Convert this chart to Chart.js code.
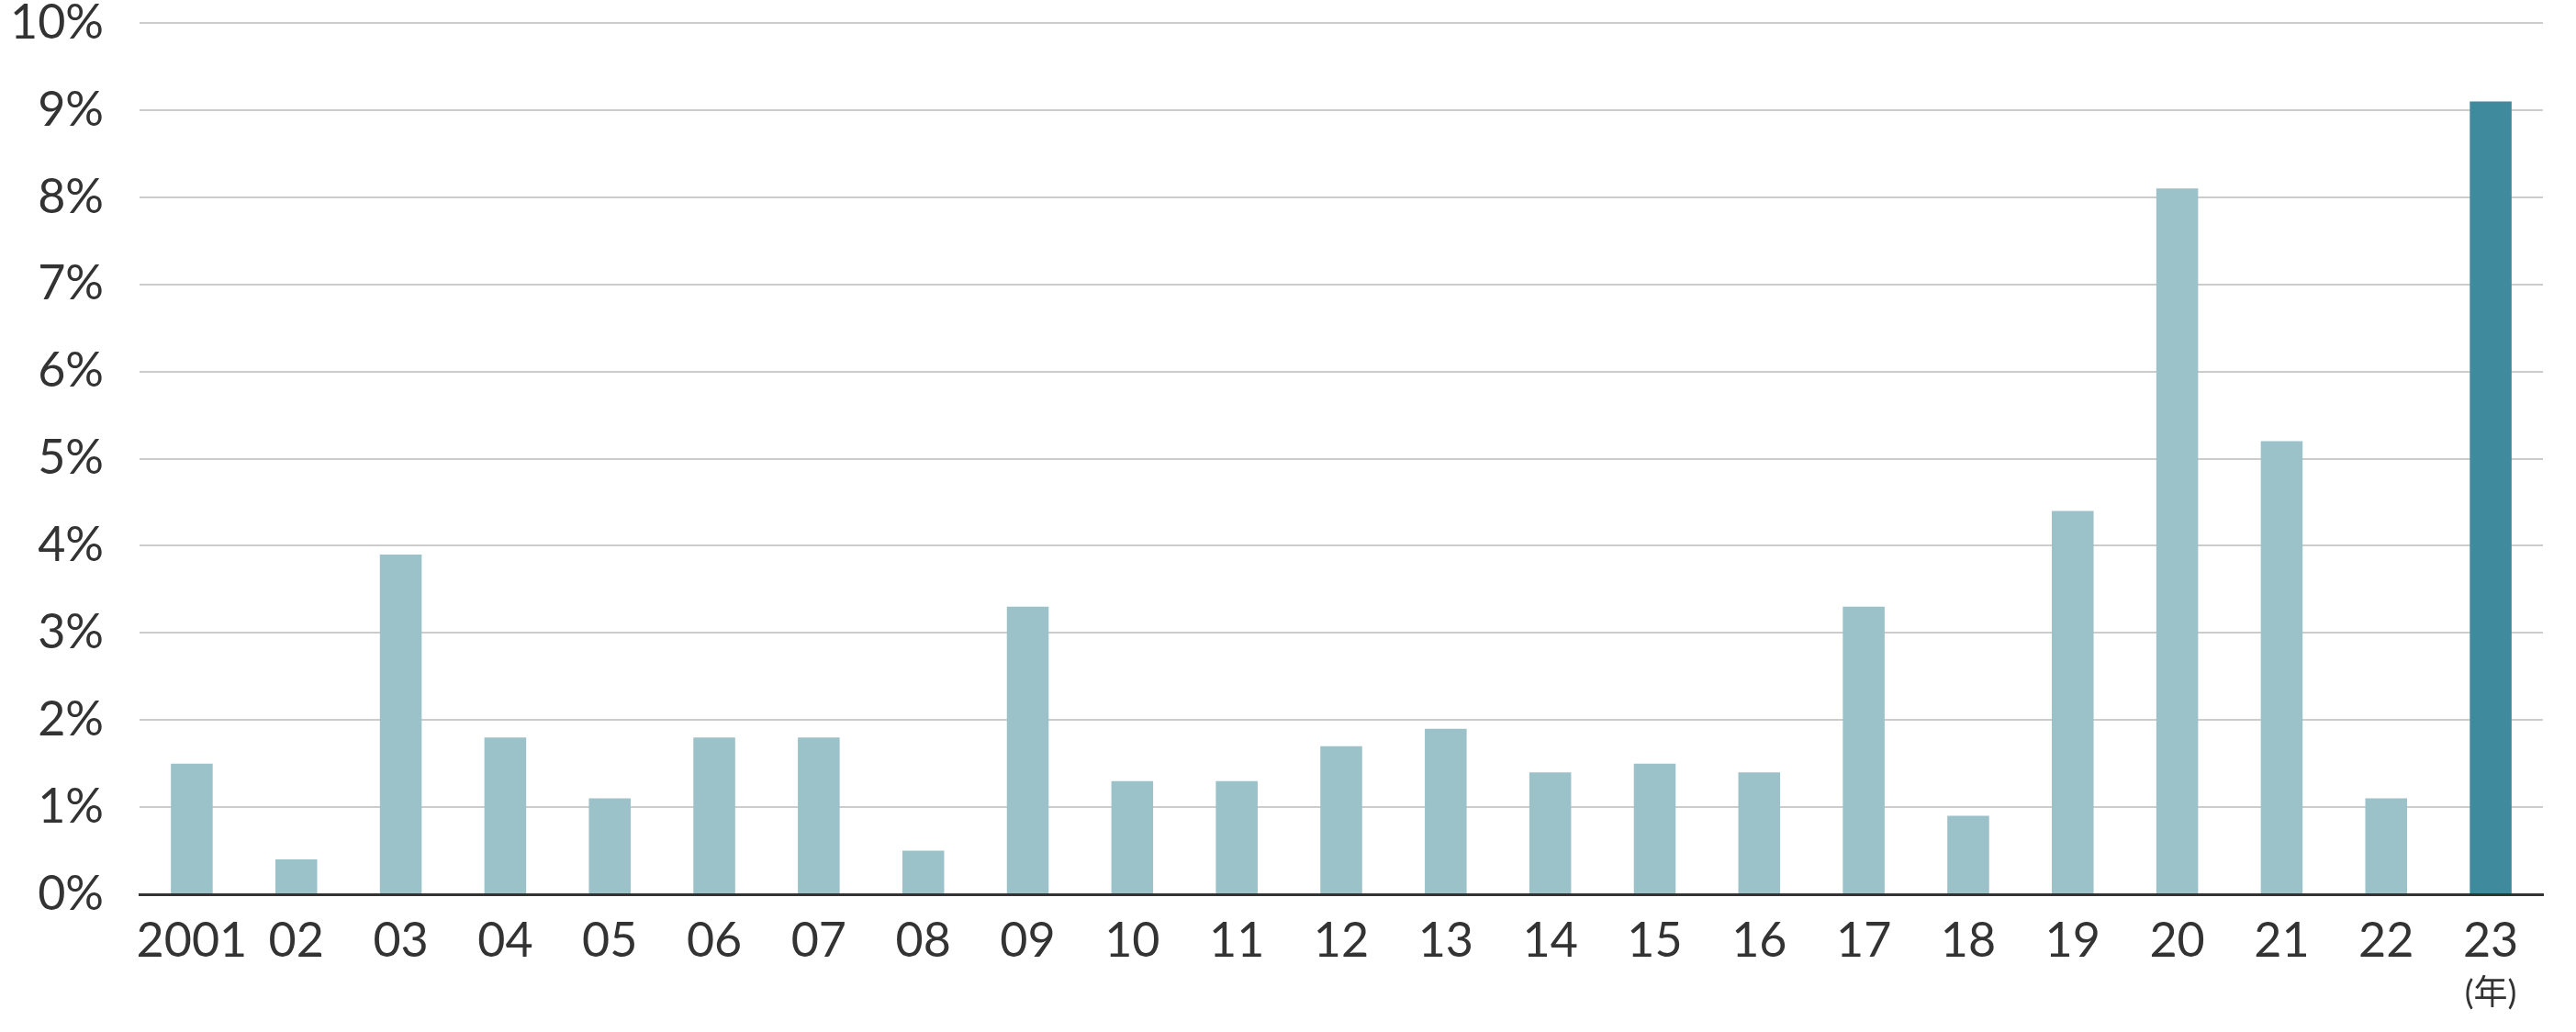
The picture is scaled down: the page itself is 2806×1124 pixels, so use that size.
<!DOCTYPE html>
<html>
<head>
<meta charset="utf-8">
<script src="https://cdn.jsdelivr.net/npm/chart.js@4"></script>
<style>
  body { margin: 0; background: #fff; }
  #wrap { width: 2806px; height: 1124px; }
</style>
</head>
<body>
<div id="wrap"><canvas id="chart"></canvas></div>
<script>
const years = ['2001', '02', '03', '04', '05', '06', '07', '08', '09', '10', '11', '12',
    '13', '14', '15', '16', '17', '18', '19', '20', '21', '22', '23'];
const rates = [1.5, 0.4, 3.9, 1.8, 1.1, 1.8, 1.8, 0.5, 3.3, 1.3, 1.3, 1.7,
    1.9, 1.4, 1.5, 1.4, 3.3, 0.9, 4.4, 8.1, 5.2, 1.1, 9.1];
const yTicks = [0, 1, 2, 3, 4, 5, 6, 7, 8, 9, 10];
const unitLabel = '(年)';

const FONT = 'Lato, "Noto Sans CJK JP", sans-serif';
const TEXT = '#333333';

// small label under the last year
const unitPlugin = {
    id: 'unitLabel',
    afterDraw(chart) {
        const { ctx, scales: { x }, chartArea } = chart;
        const px = x.getPixelForValue(years.length - 1);
        ctx.save();
        ctx.font = '37px ' + FONT;
        ctx.fillStyle = TEXT;
        ctx.textAlign = 'center';
        ctx.textBaseline = 'middle';
        ctx.fillText(unitLabel, px, chartArea.bottom + 108);
        ctx.restore();
    },
};

new Chart(document.getElementById('chart'), {
    type: 'bar',
    data: {
        labels: years,
        datasets: [
            {
                data: rates,
                backgroundColor: years.map((y, i) => i === years.length - 1 ? '#3f8a9c' : '#9bc1c9'),
                barPercentage: 0.4,
                categoryPercentage: 1,
            },
        ],
    },
    options: {
        responsive: true,
        maintainAspectRatio: false,
        animation: false,
        layout: { padding: { top: 25, right: 36, left: 0, bottom: 0 } },
        plugins: {
            legend: { display: false },
            tooltip: { enabled: false },
        },
        scales: {
            x: {
                grid: { display: false, drawTicks: false },
                border: { display: true, color: '#333333', width: 3 },
                ticks: {
                    color: TEXT,
                    font: { family: FONT, size: 52, lineHeight: 1.2 },
                    padding: 20,
                    maxRotation: 0,
                    autoSkip: false,
                },
                afterFit(scale) {
                    scale.height = 150;
                    scale.paddingLeft = 0;
                    scale.paddingRight = 0;
                },
            },
            y: {
                min: 0,
                max: 10,
                afterBuildTicks(scale) {
                    scale.ticks = yTicks.map(v => ({ value: v }));
                },
                grid: {
                    color: ctx => ctx.tick && ctx.tick.value === 0 ? 'rgba(0,0,0,0)' : '#cccccc',
                    lineWidth: 2,
                    drawTicks: false,
                },
                border: { display: false },
                ticks: {
                    color: TEXT,
                    font: { family: FONT, size: 52, lineHeight: 1 },
                    padding: 39,
                    callback: v => v + '%',
                },
                afterFit(scale) {
                    scale.width = 152;
                    scale.paddingTop = 0;
                    scale.paddingBottom = 0;
                },
            },
        },
    },
    plugins: [unitPlugin],
});
</script>
</body>
</html>
